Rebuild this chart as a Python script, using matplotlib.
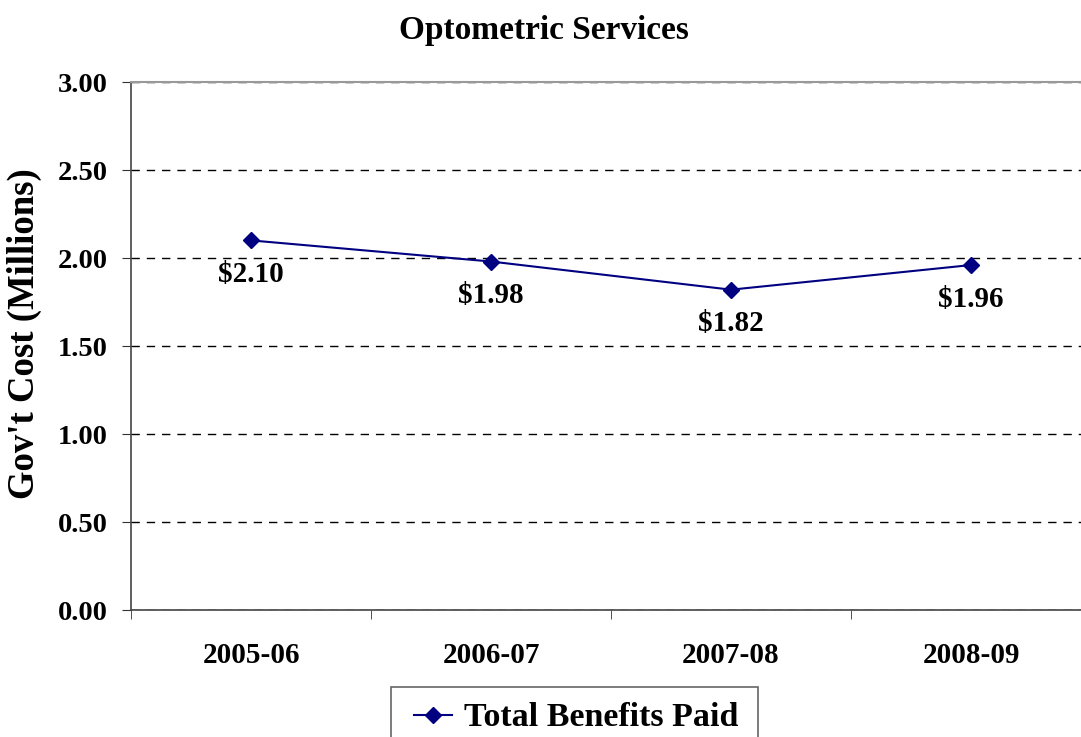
import matplotlib
matplotlib.use("Agg")
import matplotlib.pyplot as plt
from matplotlib.ticker import MultipleLocator, FixedLocator
from matplotlib.patches import Rectangle

categories = ["2005-06", "2006-07", "2007-08", "2008-09"]
values = [2.10, 1.98, 1.82, 1.96]
labels = ["$2.10", "$1.98", "$1.82", "$1.96"]
series_name = "Total Benefits Paid"

plt.rcParams['font.family'] = ['Liberation Serif', 'DejaVu Serif']
plt.rcParams['font.weight'] = 'bold'

W, H = 1081, 737
fig = plt.figure(figsize=(W / 100, H / 100), dpi=100)
ax = fig.add_axes([131 / W, (H - 610) / H, 960 / W, 528 / H])

x = list(range(len(categories)))
color = "#000080"
ax.plot(x, values, color=color, lw=1.5, marker="D", ms=8, label=series_name)

for xi, v, lab in zip(x, values, labels):
    ax.annotate(lab, (xi, v), xytext=(0, -34), textcoords="offset pixels",
                ha="center", va="center", fontsize=21, fontweight="bold")

ax.set_xlim(-0.5, 3.5)
ax.set_ylim(0, 3.0)
ax.yaxis.set_major_locator(MultipleLocator(0.5))
ax.set_yticklabels([f"{t:.2f}" for t in ax.get_yticks()])
ax.set_xticks(x)
ax.set_xticklabels(categories)
ax.xaxis.set_minor_locator(FixedLocator([-0.5, 0.5, 1.5, 2.5, 3.5]))
ax.tick_params(axis="x", which="major", length=0, pad=23, labelsize=21)
ax.tick_params(axis="x", which="minor", length=6.5, direction="out", color="#333333")
ax.tick_params(axis="y", length=6.5, direction="out", pad=10, labelsize=20.5, color="#333333")
for t in ax.get_xticklabels() + ax.get_yticklabels():
    t.set_fontweight("bold")

ax.grid(axis="y", color="black", linestyle=(0, (6, 5)), lw=1)
ax.set_axisbelow(True)
ax.spines["top"].set_color("#999999")
ax.spines["top"].set_linewidth(1.5)
ax.spines["right"].set_visible(False)
ax.spines["left"].set_color("#444444")
ax.spines["bottom"].set_color("#444444")
ax.spines["left"].set_linewidth(1.2)
ax.spines["bottom"].set_linewidth(1.2)

ax.set_ylabel("Gov't Cost (Millions)", fontsize=26.5, fontweight="bold")
ax.yaxis.set_label_coords(-(131 - 42) / 960, (610 - 334) / 528)

fig.text(544 / W, 1 - 30 / H, "Optometric Services", ha="center", va="center",
         fontsize=24, fontweight="bold")

# legend frame drawn separately (box extends past the bottom edge)
fig.patches.append(Rectangle((391 / W, -10 / H), (758 - 391) / W, (H - 687 + 10) / H,
                             transform=fig.transFigure, facecolor="white",
                             edgecolor="#666666", lw=1.2, zorder=1))
leg = fig.legend(loc="center", bbox_to_anchor=(576.5 / W, 1 - 718 / H),
                 prop={"family": "Liberation Serif", "weight": "bold", "size": 24.5},
                 frameon=False, handlelength=1.1, borderpad=0,
                 handletextpad=0.36, borderaxespad=0)
leg.set_zorder(3)

fig.savefig("out.png", dpi=100)
